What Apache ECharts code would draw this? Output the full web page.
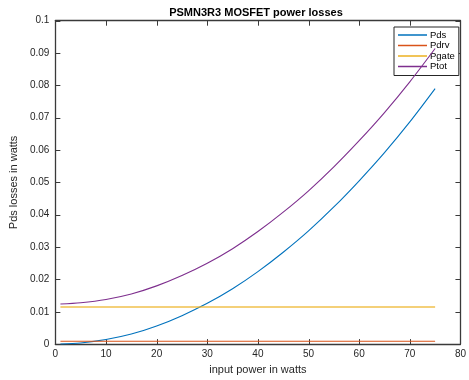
<!DOCTYPE html>
<html>
<head>
<meta charset="utf-8">
<script src="https://cdn.jsdelivr.net/npm/echarts@6/dist/echarts.min.js"></script>
<style>
  html, body { margin: 0; padding: 0; background: #fff; }
  #chart { width: 469px; height: 380px; }
</style>
</head>
<body>
<div id="chart"></div>
<script>
// Input power samples (W)
const inputPower = [1, 5, 10, 15, 20, 25, 30, 35, 40, 45, 50, 55, 60, 65, 70, 75];
// Conduction losses (W)
const pds  = [0.00001, 0.00035, 0.0014, 0.0031, 0.0056, 0.0088, 0.0126, 0.0171, 0.0224, 0.0284, 0.0350, 0.0424, 0.0505, 0.0592, 0.0687, 0.0790];
// Driver losses (W)
const pdrv = [0.0009, 0.0009, 0.0009, 0.0009, 0.0009, 0.0009, 0.0009, 0.0009, 0.0009, 0.0009, 0.0009, 0.0009, 0.0009, 0.0009, 0.0009, 0.0009];
// Gate charge losses (W)
const pgate = [0.0115, 0.0115, 0.0115, 0.0115, 0.0115, 0.0115, 0.0115, 0.0115, 0.0115, 0.0115, 0.0115, 0.0115, 0.0115, 0.0115, 0.0115, 0.0115];
// Total losses (W)
const ptot = [0.0124, 0.0128, 0.0138, 0.0155, 0.0180, 0.0212, 0.0250, 0.0295, 0.0348, 0.0408, 0.0474, 0.0548, 0.0629, 0.0716, 0.0811, 0.0914];

const seriesNames = ['Pds', 'Pdrv', 'Pgate', 'Ptot'];
const seriesColors = ['#0072BD', '#D95319', '#EDB120', '#7E2F8E'];
const xTicks = [0, 10, 20, 30, 40, 50, 60, 70, 80];
const yTicks = [0, 0.01, 0.02, 0.03, 0.04, 0.05, 0.06, 0.07, 0.08, 0.09, 0.1];

const FONT = '"Liberation Sans", Arial, Helvetica, sans-serif';
const INK = '#262626';
const BOX = '#3a3a3a';
const TICK_LEN = 5;

const xMin = xTicks[0], xMax = xTicks[xTicks.length - 1];
const yMin = yTicks[0], yMax = yTicks[yTicks.length - 1];

function pairs(ys) { return inputPower.map((x, i) => [x, ys[i]]); }

function boxAxisLine() { return { show: true, onZero: false, lineStyle: { color: BOX, width: 1.3 } }; }

// Inward tick marks on all four sides of the box, placed through the axis scales
function tickLine(x1, y1, x2, y2) {
  return { type: 'line', shape: { x1, y1, x2, y2 }, style: { stroke: BOX, lineWidth: 1 } };
}
function renderXTick(params, api) {
  const v = api.value(0);
  const b = api.coord([v, yMin]);
  const t = api.coord([v, yMax]);
  const x = Math.round(b[0]) + 0.5;
  return { type: 'group', children: [
    tickLine(x, b[1], x, b[1] - TICK_LEN),
    tickLine(x, t[1], x, t[1] + TICK_LEN)
  ] };
}
function renderYTick(params, api) {
  const v = api.value(1);
  const l = api.coord([xMin, v]);
  const r = api.coord([xMax, v]);
  const y = Math.round(l[1]) + 0.5;
  return { type: 'group', children: [
    tickLine(l[0], y, l[0] + TICK_LEN, y),
    tickLine(r[0], y, r[0] - TICK_LEN, y)
  ] };
}

const chart = echarts.init(document.getElementById('chart'), null, { renderer: 'canvas' });

chart.setOption({
  animation: false,
  backgroundColor: '#fff',
  title: {
    text: 'PSMN3R3 MOSFET power losses',
    left: 256, top: 7, padding: 0, textAlign: 'center',
    textStyle: { fontFamily: FONT, fontSize: 11, fontWeight: 'bold', color: '#000' }
  },
  grid: { left: 48.5, right: 5, top: 20.7, bottom: 31.7, containLabel: false },
  legend: {
    data: seriesNames,
    orient: 'vertical',
    left: 394, top: 27,
    padding: [3, 4, 4, 4],
    icon: 'rect',
    itemWidth: 29, itemHeight: 1.5, itemGap: 0.5,
    backgroundColor: '#fff',
    borderColor: INK, borderWidth: 1, borderRadius: 0,
    textStyle: { fontFamily: FONT, fontSize: 9.5, color: '#000', padding: [0, 0, 0, -2], lineHeight: 10 }
  },
  xAxis: [{
    type: 'value', min: xMin, max: xMax, interval: 10,
    position: 'bottom',
    name: 'input power in watts', nameLocation: 'middle', nameGap: 19,
    nameTextStyle: { fontFamily: FONT, fontSize: 11, color: INK },
    axisLine: boxAxisLine(), axisTick: { show: false },
    axisLabel: { fontFamily: FONT, fontSize: 10, color: INK, margin: 5 },
    splitLine: { show: false }
  }, {
    type: 'value', min: xMin, max: xMax, interval: 10,
    position: 'top',
    axisLine: boxAxisLine(), axisTick: { show: false },
    axisLabel: { show: false }, splitLine: { show: false }
  }],
  yAxis: [{
    type: 'value', min: yMin, max: yMax, interval: 0.01,
    position: 'left',
    name: 'Pds losses in watts', nameLocation: 'middle', nameGap: 30, nameRotate: 90,
    nameTextStyle: { fontFamily: FONT, fontSize: 11, color: INK },
    axisLine: boxAxisLine(), axisTick: { show: false },
    axisLabel: { fontFamily: FONT, fontSize: 10, color: INK, margin: 6,
      formatter: v => String(+v.toFixed(2)) },
    splitLine: { show: false }
  }, {
    type: 'value', min: yMin, max: yMax, interval: 0.01,
    position: 'right',
    axisLine: boxAxisLine(), axisTick: { show: false },
    axisLabel: { show: false }, splitLine: { show: false }
  }],
  series: [pds, pdrv, pgate, ptot].map((ys, i) => ({
    name: seriesNames[i],
    type: 'line',
    data: pairs(ys),
    smooth: 0.3,
    symbol: 'none',
    lineStyle: { color: seriesColors[i], width: i === 2 ? 2 : 1.1, opacity: i === 2 ? 0.6 : 1 },
    itemStyle: { color: seriesColors[i] },
    z: 2 + i
  })).concat([{
    name: 'xTickMarks', type: 'custom', silent: true, clip: false, z: 1,
    renderItem: renderXTick,
    data: xTicks.map(v => [v, yMin])
  }, {
    name: 'yTickMarks', type: 'custom', silent: true, clip: false, z: 1,
    renderItem: renderYTick,
    data: yTicks.map(v => [xMin, v])
  }])
});
</script>
</body>
</html>
